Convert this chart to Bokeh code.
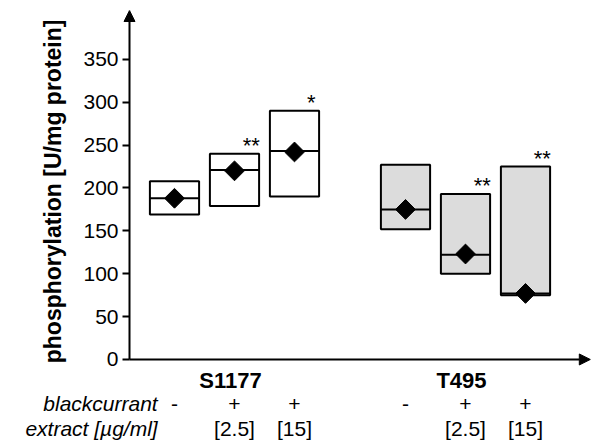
from bokeh.plotting import figure
from bokeh.models import Range1d, FixedTicker, Arrow, NormalHead, ColumnDataSource
from bokeh.embed import file_html
from bokeh.resources import INLINE
from bokeh.core.properties import value
import math

# ---- data ----
groups = ["S1177", "S1177", "S1177", "T495", "T495", "T495"]
blackcurrant = ["-", "+", "+", "-", "+", "+"]
extract = ["", "[2.5]", "[15]", "", "[2.5]", "[15]"]
box_top = [208, 240, 290, 227, 193, 225]
box_bottom = [169, 179, 190, 152, 100, 75]
median = [188, 221, 243, 175, 122, 77]
mean = [188, 220, 242, 175, 123, 77]
stars = ["", "**", "*", "", "**", "**"]
y_ticks = [0, 50, 100, 150, 200, 250, 300, 350]
row_titles = ["blackcurrant", "extract [µg/ml]"]
y_title = "phosphorylation [U/mg protein]"

# ---- layout ----
idx = list(range(len(groups)))
gap = 0.85
xs = [1 + i + (gap if groups[i] == "T495" else 0) for i in idx]
hw = 0.41
fills = ["white" if g == "S1177" else "#dcdcdc" for g in groups]

src = ColumnDataSource(dict(
    x=xs, left=[x - hw for x in xs], right=[x + hw for x in xs],
    top=box_top, bottom=box_bottom, med=median, mean=mean,
    fill=fills, stars=stars, sx=[x + 0.28 for x in xs],
    bc=blackcurrant, ex=extract,
))

FONT = "Liberation Sans"
xa = 0.25            # where the y axis stands
xs0, xs1 = -1.9, 7.95
xe = 7.93            # x-axis arrow tip
y0, y1 = -98, 407
p = figure(width=591, height=443, output_backend="svg", toolbar_location=None,
           x_range=Range1d(xs0, xs1), y_range=Range1d(y0, y1),
           min_border_left=0, min_border_right=0, min_border_top=10,
           min_border_bottom=0)
p.outline_line_color = None
p.grid.visible = False
p.xaxis.visible = False

ya = p.yaxis[0]
ya.fixed_location = xa
ya.ticker = FixedTicker(ticks=y_ticks)
ya.minor_tick_line_color = None
ya.axis_line_color = None
ya.major_tick_in = 0
ya.major_tick_out = 7
ya.major_tick_line_width = 2
ya.major_label_text_font = FONT
ya.major_label_text_font_size = "21px"
ya.major_label_text_color = "black"
ya.major_label_standoff = 4

# y-axis title (placed beside the positive part of the axis)
p.text(x=[-1.02], y=[196], text=[y_title], angle=math.pi / 2, text_align="center",
       text_baseline="middle", text_font=value(FONT), text_font_style="bold",
       text_font_size="23px", text_color="black")

head = dict(size=11, fill_color="black", line_color="black")
# axis lines with arrows
p.add_layout(Arrow(x_start=xa, y_start=0, x_end=xe, y_end=0, line_width=2,
                   end=NormalHead(**head)))
p.add_layout(Arrow(x_start=xa, y_start=0, x_end=xa, y_end=y1, line_width=2,
                   end=NormalHead(**head)))

# boxes
p.quad(left="left", right="right", top="top", bottom="bottom", source=src,
       fill_color="fill", line_color="black", line_width=2)
p.segment(x0="left", x1="right", y0="med", y1="med", source=src,
          line_color="black", line_width=2)
p.scatter(x="x", y="mean", source=src, marker="square", angle=0.785398,
          size=14, fill_color="black", line_color="black")
p.text(x="sx", y="top", text="stars", source=src, text_align="center",
       text_baseline="alphabetic", y_offset=-8, text_font=value(FONT),
       text_font_size="22px", text_color="black")

# category labels below the axis
gnames = ["S1177", "T495"]
gx = [sum(xs[i] for i in idx if groups[i] == g) / 3 for g in gnames]
p.text(x=gx, y=[-24.5] * 2, text=gnames, text_align="center", text_baseline="middle",
       x_offset=-4, text_font=value(FONT), text_font_style="bold",
       text_font_size="22px", text_color="black")
p.text(x="x", y=-51.5, text="bc", source=src, text_align="center",
       text_baseline="middle", text_font=value(FONT), text_font_size="21px",
       text_color="black")
p.text(x="x", y=-80.5, text="ex", source=src, text_align="center",
       text_baseline="middle", text_font=value(FONT), text_font_size="21px",
       text_color="black")
p.text(x=[0.72, 0.72], y=[-51.5, -80.5], text=row_titles, text_align="right",
       text_baseline="middle", text_font=value(FONT), text_font_style="italic",
       text_font_size="21px", text_color="black")

open("out.html", "w").write(file_html(p, INLINE))
